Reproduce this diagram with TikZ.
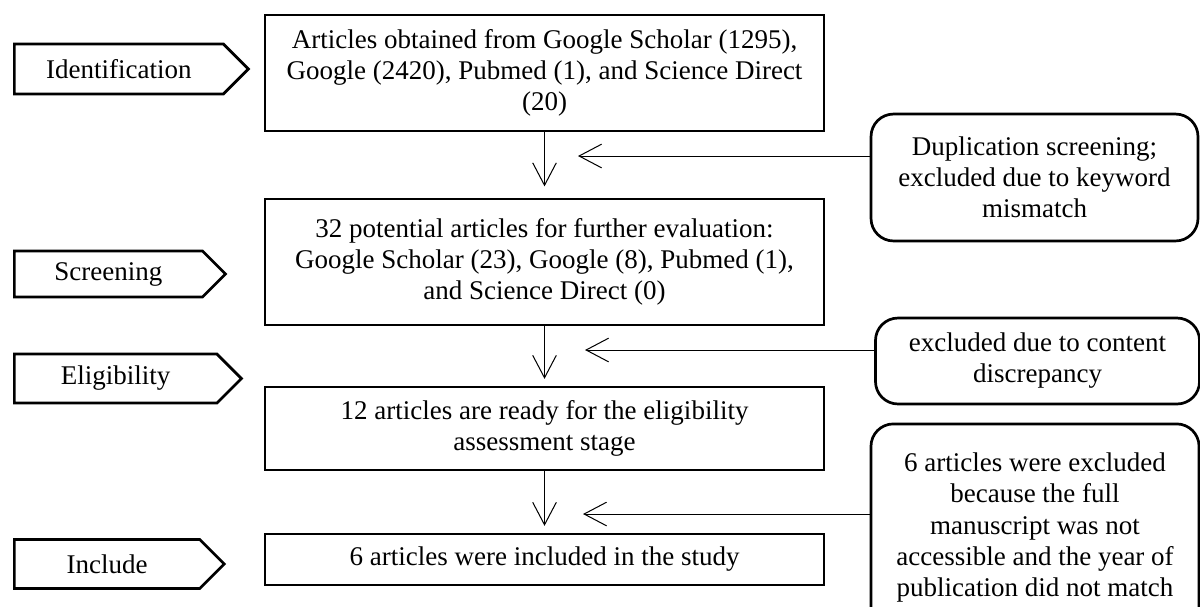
\documentclass[tikz,border=0pt]{standalone}
\usepackage{fontspec}
\setmainfont{Liberation Serif}
\usetikzlibrary{shapes.symbols,arrows.meta,positioning}
\tikzset{stage/.style={signal,signal to=east,signal pointer angle=90,draw,line width=1.2pt,inner sep=0pt,anchor=west,font=\fontsize{12}{13.8}\selectfont},
         main box/.style={rectangle,draw,line width=1.2pt,minimum width=248.4pt,align=center,inner sep=0pt,font=\fontsize{12}{13.8}\selectfont},
         note box/.style={rectangle,rounded corners=10pt,draw,line width=1.2pt,align=center,inner xsep=0pt,font=\fontsize{12}{13.8}\selectfont},
         flow/.style={-{Straight Barb[length=10pt,width=10.5pt]},line width=0.45pt},
}

\begin{document}
\begin{tikzpicture}[x=0.4444pt,y=-0.4444pt]
\useasboundingbox (0,0) rectangle (1200,606);
% stages on the left
\node[stage,minimum width=104pt,minimum height=22.2pt] (ident) at (13,69) {Identification};
\node[stage,minimum width=93.8pt,minimum height=20.4pt] (screen) at (13,274) {Screening};
\node[stage,minimum width=100.9pt,minimum height=21.8pt] (elig) at (13,378.5) {Eligibility};
\node[stage,minimum width=93.3pt,minimum height=21.8pt] (incl) at (13,564) {Include};

% main flow
\node[main box,minimum height=51.6pt] (found) at (544.5,73) {Articles obtained from Google Scholar (1295),\\Google (2420), Pubmed (1), and Science Direct\\(20)};
\node[main box,minimum height=56pt] (screened) at (544.5,262) {32 potential articles for further evaluation:\\Google Scholar (23), Google (8), Pubmed (1),\\and Science Direct (0)};
\node[main box,minimum height=36.9pt] (eligible) at (544.5,428.5) {12 articles are ready for the eligibility\\assessment stage};
\node[main box,minimum height=22.7pt] (included) at (544.5,559.5) {6 articles were included in the study};

% exclusions
\node[note box,minimum width=145.3pt,minimum height=56.4pt] (dup) at (1034.5,177.5) {Duplication screening;\\excluded due to keyword\\mismatch};
\node[note box,minimum width=144pt,minimum height=38.2pt] (content) at (1037.5,361) {excluded due to content\\discrepancy};
\node[note box,minimum width=145.8pt,inner ysep=13pt] (access) at (1035,527.5) {6 articles were excluded\\because the full\\manuscript was not\\accessible and the year of\\publication did not match};

\coordinate (h1) at (578,156);
\coordinate (h2) at (585,350);
\coordinate (h3) at (583,514);

\draw[flow,shorten >=5pt] (found.south) -- (screened.north);
\draw[flow,shorten >=3pt] (screened.south) -- (eligible.north);
\draw[flow,shorten >=3pt] (eligible.south) -- (included.north);
\draw[flow] (dup.west |- h1) -- (h1);
\draw[flow] (content.west |- h2) -- (h2);
\draw[flow] (access.west |- h3) -- (h3);
\end{tikzpicture}
\end{document}
